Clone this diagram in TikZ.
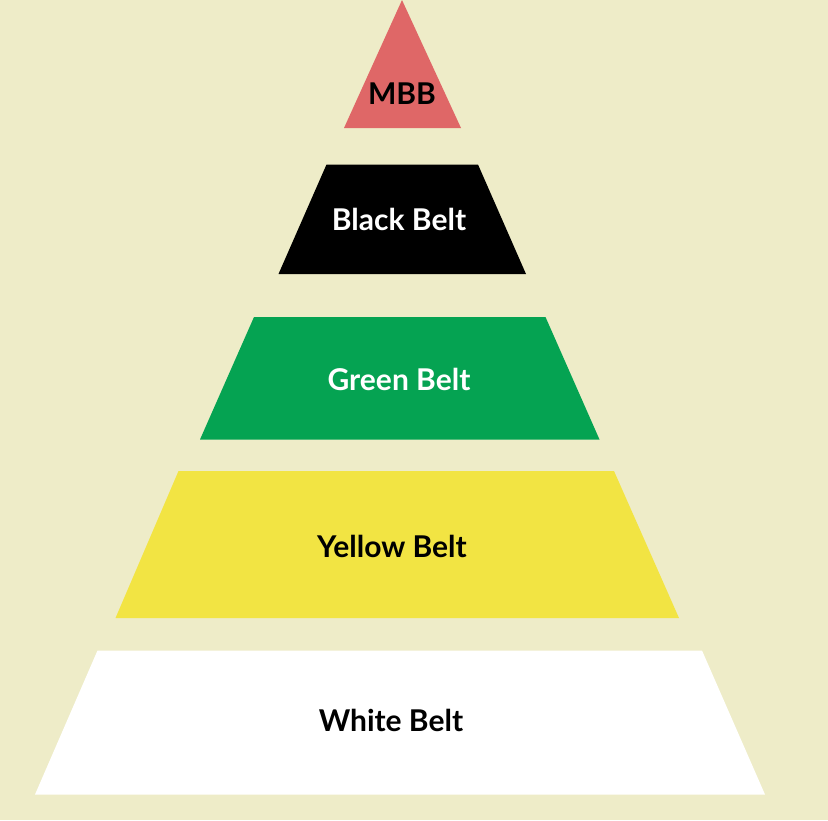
\documentclass[tikz,border=0pt]{standalone}
\usepackage{fontspec}
\setmainfont{Lato}
\definecolor{bg}{HTML}{EEECC8}
\definecolor{mbbred}{HTML}{DF6767}
\definecolor{beltgreen}{HTML}{05A352}
\definecolor{beltyellow}{HTML}{F2E443}
\begin{document}
\begin{tikzpicture}[x=1pt,y=-1pt,
  lbl/.style={anchor=base,inner sep=0pt,font=\fontsize{30}{33}\selectfont\bfseries}]
\fill[bg] (0,0) rectangle (828,820);
\useasboundingbox (0,0) rectangle (828,820);
\fill[mbbred] (402,0) -- (461,128) -- (344,128) -- cycle;
\fill[black] (326.5,164.5) -- (478,164.5) -- (526,274) -- (278.5,274) -- cycle;
\fill[beltgreen] (254,317) -- (545.5,317) -- (599.5,439.5) -- (200,439.5) -- cycle;
\fill[beltyellow] (178.5,471) -- (614,471) -- (679,618) -- (115.5,618) -- cycle;
\fill[white] (97.5,650.5) -- (702,650.5) -- (765,794.5) -- (35,794.5) -- cycle;
\node[lbl,text=black] (mbb) at (402,104) {MBB};
\node[lbl,text=white] (black) at (399,230) {Black Belt};
\node[lbl,text=white] (green) at (399,390.5) {Green Belt};
\node[lbl,text=black] (yellow) at (392,557) {Yellow Belt};
\node[lbl,text=black] (white) at (391,731.5) {White Belt};
\end{tikzpicture}
\end{document}
